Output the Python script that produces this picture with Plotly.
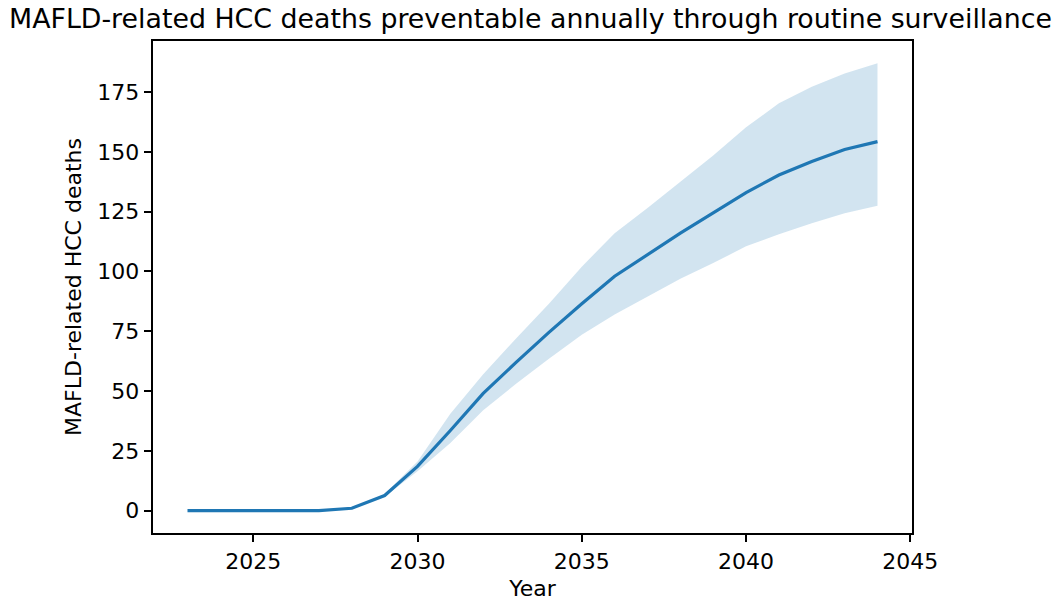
import plotly.graph_objects as go

years = list(range(2023, 2045))
mean_deaths = [0, 0, 0, 0, 0, 1.0, 6.3, 18.5, 33.5, 49.0, 62.0, 74.5, 86.5, 98.0, 107.0,
               116.0, 124.5, 133.0, 140.3, 146.0, 151.0, 154.3]
upper_deaths = [0, 0, 0, 0, 0, 1.1, 7.0, 20.5, 40.5, 57.0, 72.0, 86.5, 102.0, 116.0, 126.5,
                137.5, 148.5, 160.3, 170.3, 177.2, 182.8, 187.0]
lower_deaths = [0, 0, 0, 0, 0, 0.9, 5.8, 16.5, 28.3, 42.0, 53.0, 63.5, 73.5, 82.0, 89.5,
                97.0, 103.5, 110.5, 115.6, 120.2, 124.3, 127.5]
x_ticks = [2025, 2030, 2035, 2040, 2045]
y_ticks = [0, 25, 50, 75, 100, 125, 150, 175]

FONT = "DejaVu Sans"
fig = go.Figure()
fig.add_trace(go.Scatter(x=years, y=upper_deaths, mode="lines", line=dict(width=0),
                         hoverinfo="skip", showlegend=False))
fig.add_trace(go.Scatter(x=years, y=lower_deaths, mode="lines", line=dict(width=0),
                         fill="tonexty", fillcolor="rgba(31,119,180,0.2)",
                         hoverinfo="skip", showlegend=False))
fig.add_trace(go.Scatter(x=years, y=mean_deaths, mode="lines",
                         line=dict(color="#1f77b4", width=3.2), showlegend=False))

span_x = years[-1] - years[0]
ymin = min(lower_deaths); ymax = max(upper_deaths)
span_y = ymax - ymin

axis_common = dict(showline=True, mirror=True, linecolor="black", linewidth=1.7,
                   ticks="outside", ticklen=7.5, tickwidth=1.7, tickcolor="black",
                   showgrid=False, zeroline=False, automargin=False,
                   tickfont=dict(family=FONT, size=22, color="black"))

fig.update_layout(
    width=1062, height=601,
    margin=dict(l=153, r=150, t=41, b=68),
    paper_bgcolor="white", plot_bgcolor="white",
    title=dict(text="MAFLD-related HCC deaths preventable annually through routine surveillance",
               font=dict(family=FONT, size=26.8, color="black"),
               x=0.4995, xanchor="center", xref="container", y=1 - 19 / 601, yanchor="middle",
               yref="container"),
    xaxis=dict(range=[years[0] - 0.05 * span_x, years[-1] + 0.05 * span_x],
               tickvals=x_ticks,
               title=dict(text="Year", font=dict(family=FONT, size=22, color="black"), standoff=15),
               **axis_common),
    yaxis=dict(range=[ymin - 0.05 * span_y, ymax + 0.05 * span_y],
               tickvals=y_ticks,
               title=dict(text="MAFLD-related HCC deaths", font=dict(family=FONT, size=22, color="black"),
                          standoff=10),
               **axis_common),
)

fig.write_html("out.html")
